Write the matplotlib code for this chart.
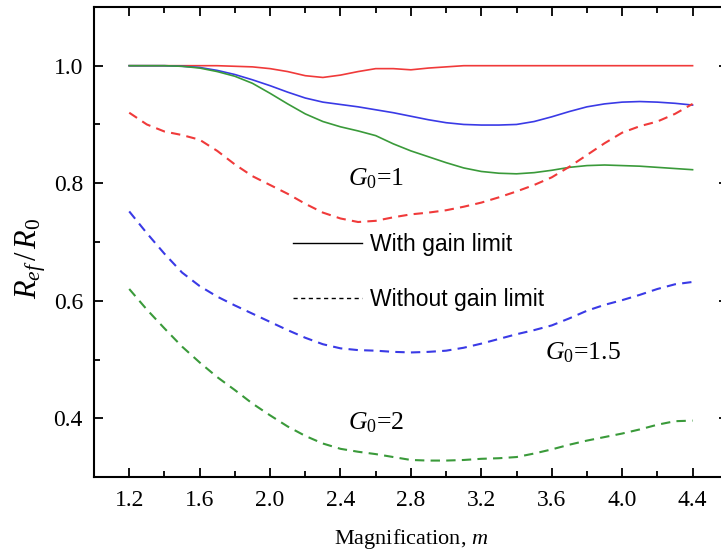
import matplotlib
matplotlib.use('Agg')
import matplotlib.pyplot as plt
from matplotlib.lines import Line2D
from matplotlib.ticker import MultipleLocator

plt.rcParams['font.family'] = 'Liberation Serif'
plt.rcParams['mathtext.fontset'] = 'custom'
plt.rcParams['mathtext.rm'] = 'Liberation Serif'
plt.rcParams['mathtext.it'] = 'Liberation Serif:italic'

# magnification m, step 0.1
m = [1.2, 1.3, 1.4, 1.5, 1.6, 1.7, 1.8, 1.9, 2.0, 2.1, 2.2, 2.3, 2.4, 2.5, 2.6,
     2.7, 2.8, 2.9, 3.0, 3.1, 3.2, 3.3, 3.4, 3.5, 3.6, 3.7, 3.8, 3.9, 4.0, 4.1,
     4.2, 4.3, 4.4]

# with gain limit
g1_lim = [1.0, 1.0, 1.0, 1.0, 1.0, 1.0, 0.999, 0.998, 0.995, 0.99, 0.983, 0.98,
          0.984, 0.99, 0.995, 0.995, 0.993, 0.996, 0.998, 1.0, 1.0, 1.0, 1.0,
          1.0, 1.0, 1.0, 1.0, 1.0, 1.0, 1.0, 1.0, 1.0, 1.0]
g15_lim = [1.0, 1.0, 1.0, 0.999, 0.997, 0.992, 0.985, 0.976, 0.966, 0.955,
           0.945, 0.938, 0.934, 0.93, 0.925, 0.92, 0.914, 0.908, 0.903, 0.9,
           0.899, 0.899, 0.9, 0.905, 0.913, 0.922, 0.93, 0.935, 0.938, 0.939,
           0.938, 0.936, 0.933]
g2_lim = [1.0, 1.0, 1.0, 0.999, 0.996, 0.99, 0.982, 0.97, 0.953, 0.935, 0.918,
          0.905, 0.896, 0.889, 0.881, 0.867, 0.855, 0.845, 0.835, 0.826, 0.82,
          0.817, 0.816, 0.818, 0.822, 0.827, 0.83, 0.831, 0.83, 0.829, 0.827,
          0.825, 0.823]

# without gain limit
g1_nolim = [0.92, 0.9, 0.888, 0.882, 0.874, 0.855, 0.832, 0.812, 0.797, 0.782,
            0.765, 0.75, 0.74, 0.734, 0.736, 0.742, 0.747, 0.75, 0.754, 0.76,
            0.767, 0.776, 0.786, 0.797, 0.81, 0.828, 0.848, 0.868, 0.886,
            0.897, 0.905, 0.918, 0.935]
g15_nolim = [0.752, 0.715, 0.68, 0.648, 0.625, 0.607, 0.592, 0.578, 0.564,
             0.55, 0.537, 0.526, 0.519, 0.516, 0.515, 0.513, 0.512, 0.513,
             0.515, 0.52, 0.527, 0.535, 0.543, 0.55, 0.558, 0.57, 0.583, 0.593,
             0.601, 0.61, 0.62, 0.628, 0.632]
g2_nolim = [0.62, 0.585, 0.553, 0.522, 0.495, 0.47, 0.448, 0.425, 0.405, 0.386,
            0.37, 0.357, 0.348, 0.343, 0.339, 0.334, 0.329, 0.328, 0.328,
            0.329, 0.331, 0.332, 0.334, 0.34, 0.347, 0.355, 0.362, 0.368,
            0.374, 0.381, 0.389, 0.395, 0.396]

RED = '#f03a3a'
BLUE = '#3a3ae6'
GREEN = '#3a9a3a'
dash = (0, (4.5, 3))

fig = plt.figure(figsize=(7.21, 5.55), dpi=100)
ax = fig.add_axes([0.1304, 0.1405, 0.879, 0.847])

ax.plot(m, g1_lim, color=RED, lw=1.2)
ax.plot(m, g15_lim, color=BLUE, lw=1.2)
ax.plot(m, g2_lim, color=GREEN, lw=1.2)
ax.plot(m, g1_nolim, color=RED, lw=1.5, linestyle=dash)
ax.plot(m, g15_nolim, color=BLUE, lw=1.5, linestyle=dash)
ax.plot(m, g2_nolim, color=GREEN, lw=1.5, linestyle=dash)

ax.set_xlim(1.0, 4.6)
ax.set_ylim(0.3, 1.1)
ax.xaxis.set_minor_locator(MultipleLocator(0.2))
ax.yaxis.set_major_locator(MultipleLocator(0.2))
ax.yaxis.set_minor_locator(MultipleLocator(0.1))
ax.set_xticks([1.2, 1.6, 2.0, 2.4, 2.8, 3.2, 3.6, 4.0, 4.4])
ax.set_xticklabels(['1.2', '1.6', '2.0', '2.4', '2.8', '3.2', '3.6', '4.0', '4.4'])
ax.set_yticks([0.4, 0.6, 0.8, 1.0])
ax.set_yticklabels(['0.4', '0.6', '0.8', '1.0'])
ax.tick_params(which='both', direction='in', top=True, right=True,
               labelsize=17, width=1.3)
ax.tick_params(which='major', length=6.5)
ax.tick_params(which='minor', length=4.3)
ax.tick_params(axis='y', pad=8)
ax.tick_params(axis='x', pad=9)
for s in ax.spines.values():
    s.set_linewidth(1.5)

ax.set_xlabel('Magnification, $m$', fontsize=16, labelpad=12)
ax.set_ylabel('$R_{ef}\\,/\\,R_0$', fontsize=22)
ax.yaxis.set_label_coords(-0.072, 0.466)

ax.text(2.44, 0.808, '$G_0$=1', fontsize=18.5, va='center')
ax.text(3.56, 0.512, '$G_0$=1.5', fontsize=18.5, va='center')
ax.text(2.44, 0.392, '$G_0$=2', fontsize=18.5, va='center')

handles = [Line2D([], [], color='black', lw=1.0),
           Line2D([], [], color='black', lw=1.0, linestyle=(0, (3, 2.5)))]
ax.legend(handles, ['With gain limit', 'Without gain limit'],
          loc='upper left', bbox_to_anchor=(0.285, 0.5585), frameon=False,
          prop={'family': 'Liberation Sans', 'size': 16.5},
          handlelength=3.0, handletextpad=0.35, labelspacing=1.4,
          borderpad=0.3)

fig.savefig('out.png', dpi=100)
